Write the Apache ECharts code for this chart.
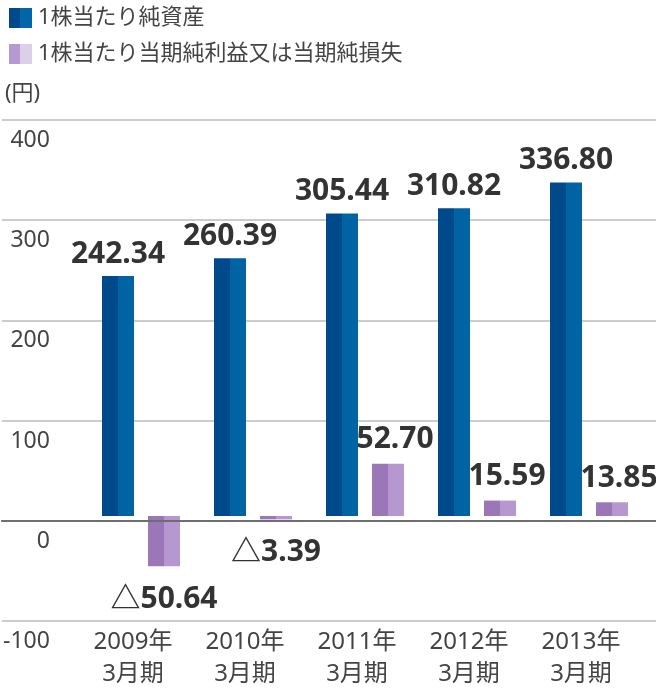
<!DOCTYPE html>
<html><head><meta charset="utf-8">
<script src="https://cdn.jsdelivr.net/npm/echarts@6/dist/echarts.min.js"></script>
<style>html,body{margin:0;padding:0;background:#fff}#c{width:656px;height:690px}</style>
</head><body><div id="c"></div>
<script>
var categories = ['2009年\n3月期','2010年\n3月期','2011年\n3月期','2012年\n3月期','2013年\n3月期'];
var netAssets = [242.34, 260.39, 305.44, 310.82, 336.80];
var netIncome = [-50.64, -3.39, 52.70, 15.59, 13.85];
var seriesNames = ['1株当たり純資産', '1株当たり当期純利益又は当期純損失'];
var unitLabel = '(円)';
var yMin = -100, yMax = 400, yStep = 100;

var FONT = '"Noto Sans", "Noto Sans CJK JP", sans-serif';
function split(c1, c2){
  return {type:'linear', x:0, y:0, x2:1, y2:0, colorStops:[
    {offset:0,color:c1},{offset:0.5,color:c1},{offset:0.5,color:c2},{offset:1,color:c2}]};
}
var chart = echarts.init(document.getElementById('c'));
var TOP = 120, BOTTOM = 69;
chart.setOption({
  animation:false,
  title:{text:unitLabel, left:0, top:78, textStyle:{fontFamily:FONT, fontSize:22, fontWeight:'normal', color:'#444'}},
  legend:{
    orient:'vertical', left:4, top:2, itemWidth:23, itemHeight:20, itemGap:14, icon:'rect', symbolKeepAspect:false,
    itemStyle:{borderWidth:0},
    textStyle:{fontFamily:FONT, fontSize:22, color:'#444', padding:[0,0,0,1]},
    data:[
      {name:seriesNames[0], itemStyle:{color:split('#00498a','#0066a7')}},
      {name:seriesNames[1], itemStyle:{color:split('#b699d3','#dccfe9')}}
    ]
  },
  grid:[
    {left:0, right:0, top:TOP, bottom:BOTTOM},
    {left:85, right:11, top:TOP, bottom:BOTTOM}
  ],
  xAxis:[
    {gridIndex:0, type:'category', data:[''], axisLine:{show:true, onZero:true, lineStyle:{color:'#6e6e6e', width:2}},
     axisTick:{show:false}, axisLabel:{show:false}, z:5},
    {gridIndex:1, type:'category', data:categories, axisLine:{show:false}, axisTick:{show:false},
     axisLabel:{fontFamily:FONT, fontSize:24, color:'#444', lineHeight:32, margin:11, padding:[0,16,0,0]}}
  ],
  yAxis:[
    {gridIndex:0, type:'value', min:yMin, max:yMax, interval:yStep,
     axisLine:{show:false}, axisTick:{show:false},
     splitLine:{lineStyle:{color:'#cccccc', width:2}},
     axisLabel:{inside:true, margin:48, align:'right', verticalAlign:'top', padding:[9,0,0,0],
       fontFamily:FONT, fontSize:23, color:'#444'}},
    {gridIndex:1, type:'value', min:yMin, max:yMax, interval:yStep, show:false, splitLine:{show:false}}
  ],
  series:[
    {name:seriesNames[0], type:'bar', xAxisIndex:1, yAxisIndex:1, barWidth:32, barGap:'43.75%',
     itemStyle:{color:split('#00498a','#0063a3')},
     label:{show:true, position:'top', distance:7, fontFamily:FONT, fontSize:30, fontWeight:'bold', color:'#333',
       formatter:function(p){return p.value.toFixed(2);}},
     data:netAssets},
    {name:seriesNames[1], type:'bar', xAxisIndex:1, yAxisIndex:1, barWidth:32, barGap:'43.75%',
     itemStyle:{color:split('#9c77b8','#b697cf')},
     label:{show:true, position:'top', distance:9, fontFamily:FONT, fontSize:30, fontWeight:'bold', color:'#333',
       formatter:function(p){var v=p.value; return v<0 ? '△'+Math.abs(v).toFixed(2) : v.toFixed(2);}},
     data:netIncome.map(function(v){
       return v<0 ? {value:v, label:{position:'bottom', distance:18}} : {value:v, label:{offset:[7,0]}};
     })}
  ]
});
</script></body></html>
